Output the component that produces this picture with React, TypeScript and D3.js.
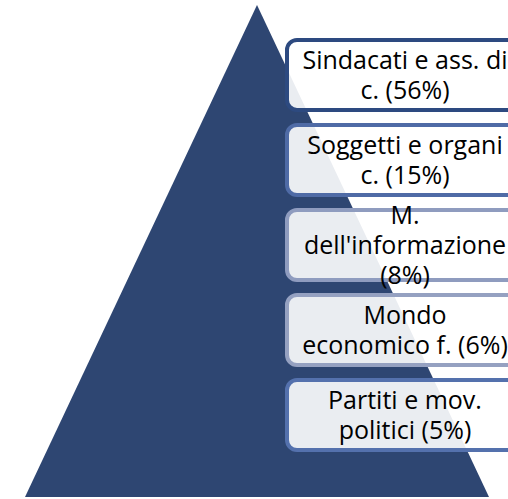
import React, { useEffect, useRef } from 'react';
import * as d3 from 'd3';

// categories (top to bottom) and their shares
const categories = ['sindacati', 'soggetti', 'media', 'economia', 'partiti'];
const shares = [56, 15, 8, 6, 5];
const labelLines = [
  ['Sindacati e ass. di', 'c. (56%)'],
  ['Soggetti e organi', 'c. (15%)'],
  ['M.', "dell'informazione", '(8%)'],
  ['Mondo', 'economico f. (6%)'],
  ['Partiti e mov.', 'politici (5%)'],
];
const borderColors = ['#2d4a80', '#4f6ba6', '#8f9cbf', '#95a1c1', '#5471ad'];

const W = 508;
const H = 499;

const App: React.FC = () => {
  const svgRef = useRef<SVGSVGElement>(null);

  useEffect(() => {
    if (!svgRef.current) return;
    const svg = d3.select(svgRef.current);
    svg.selectAll('*').remove();

    // pyramid
    const px = d3.scaleLinear().domain([-1, 1]).range([25, 489]);
    const py = d3.scaleLinear().domain([0, 1]).range([5, 497]);
    const tri: [number, number][] = [[0, 0], [1, 1], [-1, 1]];
    svg.append('path')
      .attr('d', (d3.line().x(d => px(d[0])).y(d => py(d[1])))(tri) + 'Z')
      .attr('fill', '#2e4672');

    // boxes
    const y = d3.scaleBand<string>().domain(categories).range([38, 452]).paddingInner(0.13).paddingOuter(0);
    const boxLeft = 285;
    const boxWidth = 242;
    const sw = 4;
    const cx = 405;
    const lineH = 30;

    const g = svg.selectAll('g.box')
      .data(categories)
      .join('g')
      .attr('class', 'box');

    g.append('rect')
      .attr('x', boxLeft + sw / 2)
      .attr('y', d => (y(d) as number) + sw / 2)
      .attr('width', boxWidth - sw)
      .attr('height', y.bandwidth() - sw)
      .attr('rx', 10)
      .attr('fill', 'rgba(255,255,255,0.9)')
      .attr('stroke', (d, i) => borderColors[i])
      .attr('stroke-width', sw);

    g.each(function (d, i) {
      const lines = labelLines[i];
      const mid = (y(d) as number) + y.bandwidth() / 2;
      const start = mid - ((lines.length - 1) * lineH) / 2;
      d3.select(this).selectAll('text')
        .data(lines)
        .join('text')
        .attr('x', cx)
        .attr('y', (_, j) => start + j * lineH)
        .attr('dy', '0.35em')
        .attr('text-anchor', 'middle')
        .attr('font-family', '"Open Sans", sans-serif')
        .attr('font-size', 25)
        .attr('fill', '#000')
        .attr('data-share', shares[i])
        .text(t => t);
    });
  }, []);

  return (
    <svg
      ref={svgRef}
      width={W}
      height={H}
      style={{ position: 'absolute', left: 0, top: 0, background: '#fff', display: 'block' }}
    />
  );
};

export default App;
